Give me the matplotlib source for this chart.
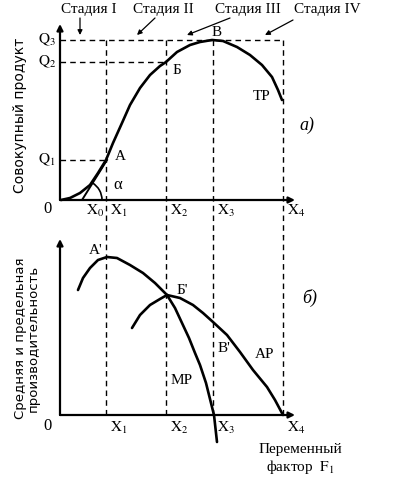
import matplotlib
matplotlib.use("Agg")
import matplotlib.pyplot as plt
from matplotlib.patches import Arc

plt.rcParams["mathtext.fontset"] = "stix"
SERIF = "Liberation Serif"
SANS = "DejaVu Sans"

# factor levels (x) and output levels (y) of the schematic
X_POS = [2.2, 4.6, 10.6, 15.3, 22.3]          # X0..X4
X_LBL = [r"$\mathrm{X}_0$", r"$\mathrm{X}_1$", r"$\mathrm{X}_2$", r"$\mathrm{X}_3$", r"$\mathrm{X}_4$"]
Q_POS = [4.0, 13.8, 16.0]                      # Q1..Q3
Q_LBL = [r"$\mathrm{Q}_1$", r"$\mathrm{Q}_2$", r"$\mathrm{Q}_3$"]

# total product curve TP
tp_x = [0.1, 1.0, 2.0, 3.0, 3.8, 4.6, 5.3, 6.2, 7.0, 8.0, 9.0, 10.0, 10.6,
        11.7, 13.0, 14.0, 15.2, 16.3, 17.7, 19.0, 20.2, 21.2, 21.8, 22.2]
tp_y = [0.0, 0.2, 0.7, 1.5, 2.7, 4.0, 5.7, 7.7, 9.5, 11.2, 12.5, 13.4, 13.8,
        14.8, 15.5, 15.8, 16.0, 15.9, 15.3, 14.5, 13.5, 12.3, 11.0, 10.0]

# marginal product MP
mp_x = [1.8, 2.3, 3.0, 3.8, 4.7, 5.7, 7.0, 8.3, 9.5, 10.7, 11.5, 12.2, 12.9,
        13.5, 14.0, 14.6, 15.1, 15.4, 15.7]
mp_y = [12.5, 13.7, 14.7, 15.5, 15.8, 15.7, 15.0, 14.2, 13.2, 12.0, 10.7, 9.2, 7.7,
        6.2, 5.0, 3.2, 1.2, 0.0, -2.7]

# average product AP
ap_x = [7.2, 8.0, 9.0, 10.0, 10.7, 12.0, 13.3, 14.3, 15.3, 16.7, 18.0, 19.3,
        20.7, 21.5, 22.3]
ap_y = [8.7, 10.0, 11.0, 11.6, 12.0, 11.7, 11.0, 10.2, 9.3, 8.0, 6.3, 4.5,
        2.8, 1.5, 0.0]

STAGES = ["Стадия I", "Стадия II", "Стадия III", "Стадия IV"]

W, H = 394, 488
fig = plt.figure(figsize=(W / 100, H / 100), dpi=100)
top = fig.add_axes([60 / W, (H - 200) / H, 240 / W, 180 / H])
bot = fig.add_axes([60 / W, (H - 415) / H, 240 / W, 180 / H])
for ax in (top, bot):
    ax.set_xlim(0, 24)
    ax.set_ylim(0, 18)
    ax.axis("off")
    arr = dict(arrowstyle="-|>", lw=1.6, color="k", mutation_scale=9, shrinkA=0, shrinkB=0)
    ax.annotate("", xy=(0, 17.6), xytext=(0, 0), arrowprops=arr, annotation_clip=False)
    ax.annotate("", xy=(23.5, 0), xytext=(0, 0), arrowprops=arr, annotation_clip=False)

dash = dict(color="k", lw=1.0, ls=(0, (4, 3)), clip_on=False)
curve = dict(color="k", lw=1.9, clip_on=False, solid_capstyle="round",
             solid_joinstyle="round")

# --- top panel (a) ---
for x in X_POS[1:]:
    top.plot([x, x], [Q_POS[2], -3.6], **dash)
    bot.plot([x, x], [0, 18], **dash)
top.plot([0, X_POS[4]], [Q_POS[2]] * 2, **dash)
top.plot([0, X_POS[2]], [Q_POS[1]] * 2, **dash)
top.plot([0, X_POS[1]], [Q_POS[0]] * 2, **dash)

top.plot(tp_x, tp_y, **curve)
top.plot([X_POS[0], X_POS[1] + 0.1], [0, Q_POS[0]], color="k", lw=1.4)
top.add_patch(Arc((X_POS[0], 0), 4.0, 4.0, theta1=0, theta2=59, lw=1.2, color="k"))

fs = 11
for q, lbl in zip(Q_POS, Q_LBL):
    top.text(-1.3, q, lbl, ha="center", va="center", fontsize=fs, family=SERIF)
for x, lbl in zip(X_POS, X_LBL):
    top.text(x + 1.3, -1.1, lbl, ha="center", va="center", fontsize=fs, family=SERIF)
top.text(-1.3, -0.9, "0", ha="center", va="center", fontsize=fs + 1, family=SERIF)
top.text(6.0, 4.3, "A", ha="center", va="center", fontsize=fs, family=SERIF)
top.text(5.8, 1.5, "α", ha="center", va="center", fontsize=fs + 1, family=SERIF)
top.text(11.7, 12.9, "Б", ha="center", va="center", fontsize=fs, family=SERIF)
top.text(15.7, 16.8, "В", ha="center", va="center", fontsize=fs, family=SERIF)
top.text(20.2, 10.3, "TP", ha="center", va="center", fontsize=fs, family=SERIF)
top.text(24.7, 7.5, "а)", ha="center", va="center", fontsize=fs + 2, family=SERIF, style="italic")

stage_x = [2.9, 10.3, 18.8, 26.7]
arr_from = [(2.0, 18.2), (9.5, 18.2), (17.0, 18.2), (23.3, 18.0)]
arr_to = [(2.0, 16.5), (7.7, 16.5), (12.7, 16.5), (20.5, 16.5)]
for sx, name in zip(stage_x, STAGES):
    top.text(sx, 19.0, name, ha="center", va="center", fontsize=11, family=SERIF)
for a, b in zip(arr_from, arr_to):
    top.annotate("", xy=b, xytext=a, annotation_clip=False,
                 arrowprops=dict(arrowstyle="-|>", lw=0.9, color="k", mutation_scale=7,
                                 shrinkA=0, shrinkB=0))

# --- bottom panel (б) ---
bot.plot(mp_x, mp_y, **curve)
bot.plot(ap_x, ap_y, **curve)
for x, lbl in zip(X_POS[1:], X_LBL[1:]):
    bot.text(x + 1.3, -1.3, lbl, ha="center", va="center", fontsize=fs, family=SERIF)
bot.text(-1.3, -1.1, "0", ha="center", va="center", fontsize=fs + 1, family=SERIF)
bot.text(3.6, 16.4, "A'", ha="center", va="center", fontsize=fs, family=SERIF)
bot.text(12.2, 12.5, "Б'", ha="center", va="center", fontsize=fs, family=SERIF)
bot.text(16.4, 6.7, "В'", ha="center", va="center", fontsize=fs, family=SERIF)
bot.text(20.5, 6.0, "AP", ha="center", va="center", fontsize=fs, family=SERIF)
bot.text(12.2, 3.5, "MP", ha="center", va="center", fontsize=fs, family=SERIF)
bot.text(25.0, 11.7, "б)", ha="center", va="center", fontsize=fs + 2, family=SERIF, style="italic")
bot.text(24.0, -3.5, "Переменный", ha="center", va="center", fontsize=fs, family=SERIF)
bot.text(24.0, -5.2, r"фактор  $\mathrm{F}_1$", ha="center", va="center", fontsize=fs, family=SERIF)

fig.text(20 / W, 1 - 115 / H, "Совокупный продукт", rotation=90, ha="center", va="center",
         fontsize=10, family=SANS)
fig.text(27 / W, 1 - 338 / H, "Средняя и предельная\nпроизводительность", rotation=90,
         ha="center", va="center", fontsize=9.5, family=SANS, linespacing=1.0)

fig.savefig("out.png", dpi=100)
